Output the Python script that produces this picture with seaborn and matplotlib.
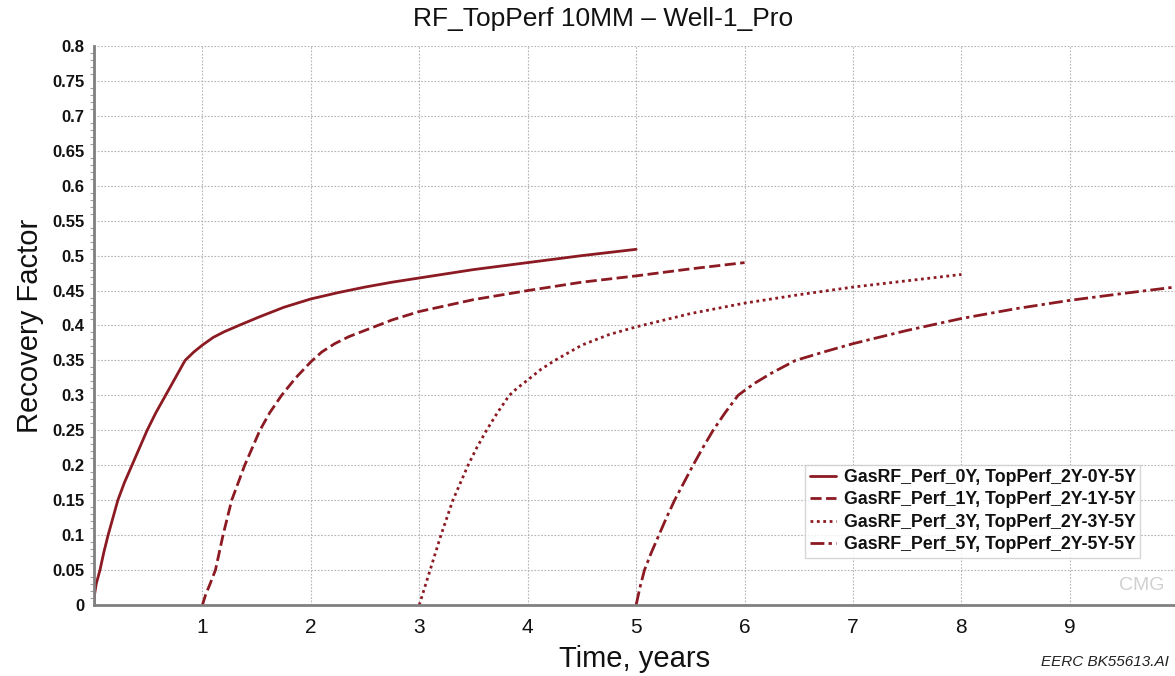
import numpy as np
import pandas as pd
import matplotlib
matplotlib.use("Agg")
import matplotlib.pyplot as plt
import seaborn as sns
from matplotlib.ticker import MultipleLocator, FuncFormatter

# ===========================
# DATA
# ===========================
t_0y = [0.0, 0.005, 0.02, 0.055, 0.09, 0.13, 0.175, 0.22, 0.28, 0.35, 0.42, 0.49, 0.57, 0.66,
        0.75, 0.84, 0.92, 1.0, 1.1, 1.2, 1.35, 1.52, 1.75, 2.0, 2.25, 2.5, 2.75, 3.0, 3.5, 4.0, 4.5, 5.0]
rf_0y = [0.0, 0.015, 0.03, 0.05, 0.075, 0.10, 0.125, 0.15, 0.175, 0.20, 0.225, 0.25, 0.275, 0.30,
         0.325, 0.35, 0.362, 0.372, 0.383, 0.391, 0.401, 0.412, 0.426, 0.438, 0.447, 0.455, 0.462,
         0.468, 0.480, 0.490, 0.500, 0.509]

t_1y = [1.0, 1.03, 1.07, 1.12, 1.155, 1.19, 1.23, 1.27, 1.33, 1.39, 1.46, 1.53, 1.62, 1.73, 1.86,
        2.0, 2.1, 2.22, 2.35, 2.5, 2.75, 3.0, 3.5, 4.0, 4.5, 5.0, 5.5, 6.0]
rf_1y = [0.0, 0.015, 0.03, 0.05, 0.075, 0.10, 0.125, 0.15, 0.175, 0.20, 0.225, 0.25, 0.275, 0.30,
         0.325, 0.348, 0.362, 0.374, 0.384, 0.393, 0.408, 0.420, 0.437, 0.450, 0.462, 0.471, 0.481, 0.490]

t_3y = [3.0, 3.04, 3.10, 3.15, 3.20, 3.255, 3.31, 3.38, 3.45, 3.53, 3.62, 3.72, 3.83, 3.9, 4.0,
        4.12, 4.25, 4.5, 4.75, 5.0, 5.5, 6.0, 6.5, 7.0, 7.5, 8.0]
rf_3y = [0.0, 0.02, 0.05, 0.075, 0.10, 0.125, 0.15, 0.175, 0.20, 0.225, 0.25, 0.275, 0.30, 0.31,
         0.322, 0.337, 0.350, 0.372, 0.387, 0.398, 0.417, 0.432, 0.444, 0.455, 0.464, 0.473]

t_5y = [5.0, 5.035, 5.077, 5.14, 5.21, 5.28, 5.355, 5.44, 5.525, 5.615, 5.71, 5.82, 5.94, 6.0,
        6.1, 6.25, 6.47, 6.75, 7.0, 7.5, 8.0, 8.5, 9.0, 9.5, 9.97]
rf_5y = [0.0, 0.025, 0.05, 0.075, 0.10, 0.125, 0.15, 0.175, 0.20, 0.225, 0.25, 0.275, 0.30, 0.307,
         0.318, 0.332, 0.350, 0.363, 0.374, 0.393, 0.410, 0.424, 0.436, 0.446, 0.455]

labels = [
    "GasRF_Perf_0Y, TopPerf_2Y-0Y-5Y",
    "GasRF_Perf_1Y, TopPerf_2Y-1Y-5Y",
    "GasRF_Perf_3Y, TopPerf_2Y-3Y-5Y",
    "GasRF_Perf_5Y, TopPerf_2Y-5Y-5Y",
]
x_ticks = [1, 2, 3, 4, 5, 6, 7, 8, 9]

series = [(t_0y, rf_0y), (t_1y, rf_1y), (t_3y, rf_3y), (t_5y, rf_5y)]
styles = ["-", (0, (4, 1.6)), (0, (1, 1.3)), (0, (5, 1.5, 1.2, 1.5))]
color = "#8b1a22"

# ===========================
# PLOT
# ===========================
sns.set_style("white")
plt.rcParams["font.family"] = ["Liberation Sans", "DejaVu Sans"]
plt.rcParams["text.color"] = "#111111"
plt.rcParams["axes.labelcolor"] = "#111111"
plt.rcParams["xtick.labelcolor"] = "#111111"
plt.rcParams["ytick.labelcolor"] = "#111111"

fig = plt.figure(figsize=(11.75, 6.76), dpi=100)
ax = fig.add_axes([0.080, 0.105, 0.920, 0.827])

for (t, rf), ls, lab in zip(series, styles, labels):
    df = pd.DataFrame({"t": t, "rf": rf})
    sns.lineplot(data=df, x="t", y="rf", ax=ax, color=color, linestyle=ls,
                 linewidth=2.0, label=lab, estimator=None, sort=False)

ax.set_xlim(0, 9.97)
ax.set_ylim(0, 0.8)
ax.set_xticks(x_ticks)
ax.yaxis.set_major_locator(MultipleLocator(0.05))
ax.yaxis.set_minor_locator(MultipleLocator(0.01))
ax.yaxis.set_major_formatter(FuncFormatter(lambda v, p: f"{v:.2f}".rstrip("0").rstrip(".") if v else "0"))

ax.grid(True, which="major", color="#b4b4b4", linestyle=(0, (1.5, 1.5)), linewidth=0.8)
ax.set_axisbelow(True)

for s in ["top", "right"]:
    ax.spines[s].set_visible(False)
for s in ["left", "bottom"]:
    ax.spines[s].set_color("#808080")
    ax.spines[s].set_linewidth(2)

ax.tick_params(axis="y", which="major", labelsize=12, length=5, width=1, color="#808080", pad=2)
ax.tick_params(axis="y", which="minor", length=3, width=0.8, color="#a0a0a0", left=True)
ax.tick_params(axis="x", labelsize=15, length=0, pad=9)
for lbl in ax.get_yticklabels():
    lbl.set_fontweight("bold")

ax.set_xlabel("Time, years", fontsize=21, labelpad=6)
ax.set_ylabel("Recovery Factor", fontsize=21, labelpad=6)
fig.text(0.513, 0.972, "RF_TopPerf 10MM \u2013 Well-1_Pro", fontsize=19, ha="center", va="center")

leg = ax.legend(loc="lower left", bbox_to_anchor=(0.658, 0.085),
                prop={"weight": "bold", "size": 12.8}, handlelength=1.5,
                frameon=True, fancybox=False, borderpad=0.25, labelspacing=0.3,
                handletextpad=0.4, borderaxespad=0)
leg.get_frame().set_edgecolor("#cccccc")
leg.get_frame().set_linewidth(1)

ax.text(0.99, 0.035, "CMG", transform=ax.transAxes, ha="right", va="center",
        fontsize=14, color="#d0d0d0")
fig.text(0.995, 0.02, "EERC BK55613.AI", ha="right", va="center",
         fontsize=11, style="italic", color="#222222")

plt.savefig("out.png", dpi=100)
plt.close()
